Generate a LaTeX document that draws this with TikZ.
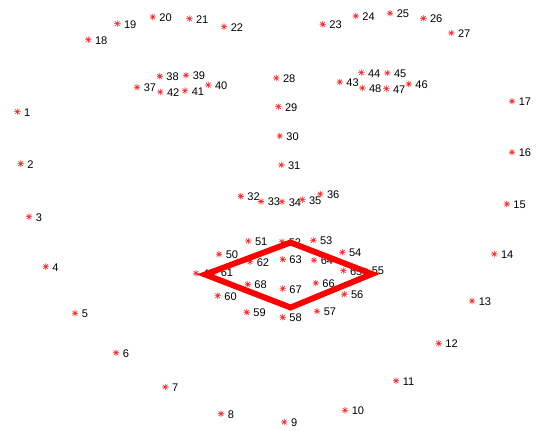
\documentclass[tikz,border=0pt]{standalone}
\usepackage{fontspec}
\setmainfont{Liberation Sans}
\usetikzlibrary{calc}
\begin{document}
\begin{tikzpicture}[x=0.75pt,y=-0.75pt,
  lmk/.style={inner sep=0pt,minimum size=0pt},
  lbl/.style={anchor=west,inner sep=0pt,font=\fontsize{8.3}{9}\selectfont,text=black},
  ring/.style={draw=red,line width=4.4pt,line join=miter}]
\useasboundingbox (0,0) rectangle (536,431);
\foreach \n/\x/\y in {1/17.3/111.7,2/20.7/163.7,3/29/216.7,4/45.7/266.7,5/75/313.3,6/116/352.7,
  7/165.3/387,8/221/413.7,9/284.3/422,10/345/410.3,11/396/380.7,12/438.7/343.3,13/472/301,
  14/494.3/254,15/506.7/204,16/512/152.3,17/512/101.3,18/88.3/39.7,19/117.3/23.7,20/152.7/17,
  21/189.3/18.7,22/224/26.7,23/322.7/24.3,24/355.7/16,25/390/13.3,26/423.3/18.3,27/451.3/33,
  28/276.3/78,29/278.3/106.7,30/279.7/136,31/281.3/165,32/240.7/196.3,33/261/201.5,34/282/201.7,
  35/302.3/199.7,36/320.3/194,37/137/87.3,38/159.7/76.3,39/186/75.3,40/208.3/85,41/185/90.7,
  42/160.3/92,43/339.7/82,44/361.3/72.7,45/387.3/73,46/408.7/84,47/386.3/88.7,48/362.3/88,
  49/196/273.3,50/219/254.3,51/248.3/241,52/282/241.7,53/313.3/240.3,54/342.3/252.3,55/365/270.5,
  56/344.3/294.3,57/317/311.3,58/282.7/317.3,59/246.7/312.3,60/217.7/295.7,61/214/272.5,
  62/250/261.7,63/282.7/259.3,64/314/260.3,65/343.3/270.7,66/315.7/283,67/282.7/288.7,68/247.7/284.3}
{
  \coordinate (p\n) at (\x,\y);
  \draw[red!85,line width=0.45pt] ($(p\n)+(-3.2,0)$) -- ($(p\n)+(3.2,0)$)
    ($(p\n)+(0,-3.2)$) -- ($(p\n)+(0,3.2)$)
    ($(p\n)+(-2.3,-2.3)$) -- ($(p\n)+(2.3,2.3)$)
    ($(p\n)+(-2.3,2.3)$) -- ($(p\n)+(2.3,-2.3)$);
  \node[lbl] (l\n) at ($(p\n)+(6.5,0.5)$) {\n};
}
\coordinate (mL) at (205,274.5);
\coordinate (mT) at (290.5,242.5);
\coordinate (mR) at (372,274);
\coordinate (mB) at (290.5,307.5);
\draw[ring] (mL) -- (mT) -- (mR) -- (mB) -- cycle;
\end{tikzpicture}
\end{document}
